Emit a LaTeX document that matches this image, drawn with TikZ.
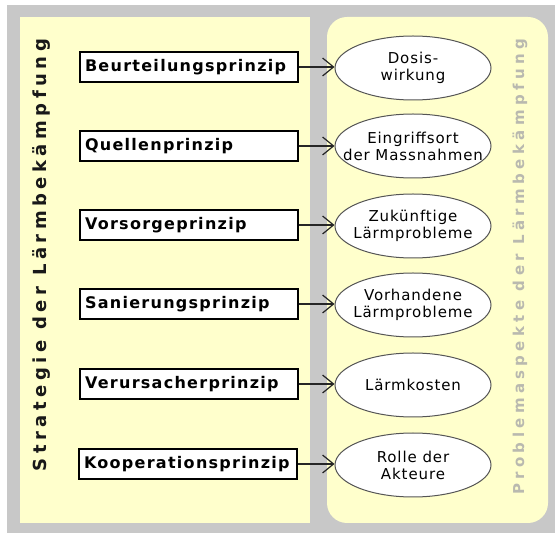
\documentclass[tikz,border=0pt]{standalone}
\usepackage{fontspec}
\setmainfont{DejaVu Sans}
\newfontfamily\boxfont{DejaVu Sans Bold}[LetterSpace=8]
\newfontfamily\ellfont{DejaVu Sans}[LetterSpace=6]
\newfontfamily\titlefont{DejaVu Sans Bold}[LetterSpace=25]
\newfontfamily\subtitlefont{DejaVu Sans Bold}[LetterSpace=29]
\usetikzlibrary{arrows.meta,shapes.geometric}
\definecolor{panelyellow}{HTML}{FFFFCC}
\definecolor{framegray}{HTML}{C8C8C8}
\definecolor{titlegray}{HTML}{B9B9AF}
\definecolor{ellborder}{HTML}{555555}
\tikzset{
  prinzip/.style={draw=black, line width=1.3pt, fill=white, minimum width=218pt, minimum height=30pt,
    inner xsep=4pt, inner ysep=0pt, text width=208pt, align=left, font=\boxfont\fontsize{16}{18}\selectfont},
  aspekt/.style={ellipse, draw=ellborder, line width=1pt, fill=white, minimum width=156pt, minimum height=64pt,
    inner xsep=-25pt, inner ysep=0pt, align=center, font=\ellfont\fontsize{15}{17}\selectfont},
  conn/.style={draw=black!85, line width=1.2pt, -{Straight Barb[length=11pt,width=18pt,line width=1.2pt]}},
  lefttitle/.style={rotate=90, font=\titlefont\fontsize{18}{20}\selectfont, text=black!90},
  righttitle/.style={rotate=90, font=\subtitlefont\fontsize{15}{17}\selectfont, text=titlegray}
}
\begin{document}
\begin{tikzpicture}[x=1pt,y=-1pt]
\useasboundingbox (0,0) rectangle (555,534);
\fill[framegray] (7,5) rectangle (555,533);
\fill[panelyellow] (20,17) rectangle (310,523);
\fill[panelyellow, rounded corners=20pt] (327,17) rectangle (548,523);

\node[lefttitle] (t1) at (41,255) {Strategie der Lärmbekämpfung};
\node[righttitle] (t2) at (520,267) {Problemaspekte der Lärmbekämpfung};

\node[prinzip] (b1) at (189,67) {Beurteilungsprinzip};
\node[prinzip] (b2) at (189,146) {Quellenprinzip};
\node[prinzip] (b3) at (189,225) {Vorsorgeprinzip};
\node[prinzip] (b4) at (189,304) {Sanierungsprinzip};
\node[prinzip] (b5) at (189,384) {Verursacherprinzip};
\node[prinzip] (b6) at (188,464) {Kooperationsprinzip};

\node[aspekt] (a1) at (413,68) {Dosis-\\wirkung};
\node[aspekt] (a2) at (413,146) {Eingriffsort\\der Massnahmen};
\node[aspekt] (a3) at (413,226) {Zukünftige\\Lärmprobleme};
\node[aspekt] (a4) at (413,305) {Vorhandene\\Lärmprobleme};
\node[aspekt] (a5) at (413,385) {Lärmkosten};
\node[aspekt] (a6) at (413,465) {Rolle der\\Akteure};

\draw[conn] (b1.east) -- (b1.east -| a1.west);
\draw[conn] (b2.east) -- (b2.east -| a2.west);
\draw[conn] (b3.east) -- (b3.east -| a3.west);
\draw[conn] (b4.east) -- (b4.east -| a4.west);
\draw[conn] (b5.east) -- (b5.east -| a5.west);
\draw[conn] (b6.east) -- (b6.east -| a6.west);
\end{tikzpicture}
\end{document}
